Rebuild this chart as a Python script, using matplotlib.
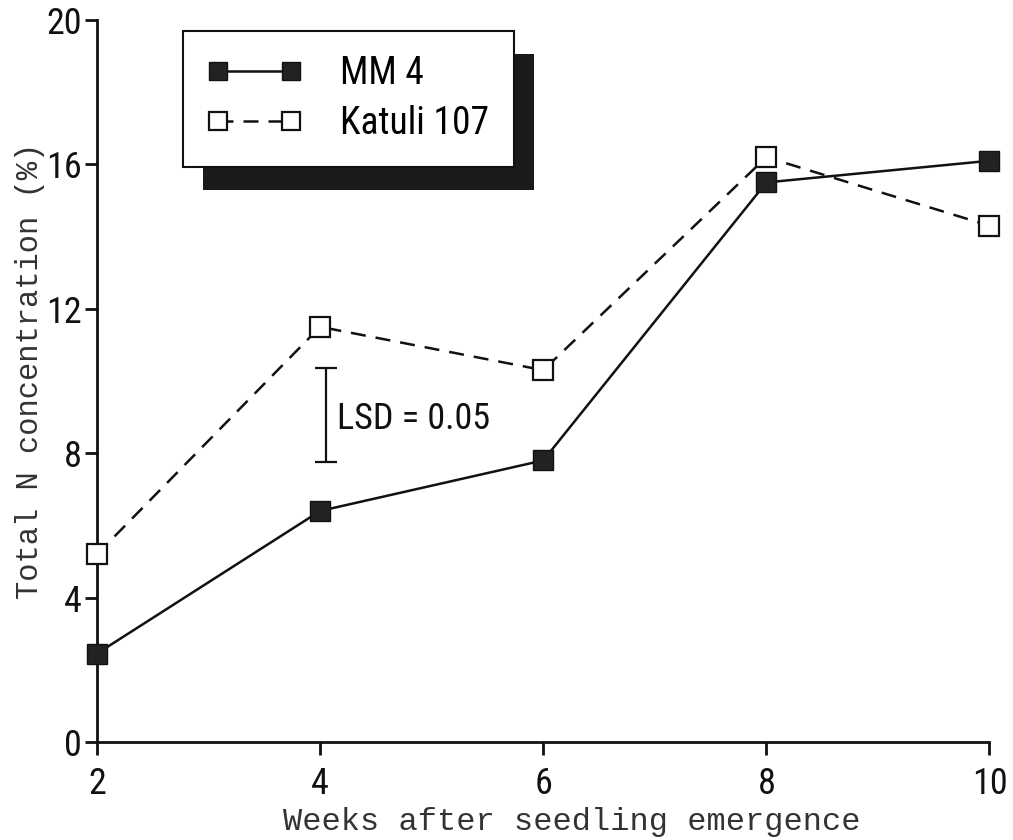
import matplotlib
matplotlib.use('Agg')
import matplotlib.pyplot as plt
from matplotlib.patches import Rectangle

weeks = [2, 4, 6, 8, 10]
mm4 = [2.45, 6.4, 7.8, 15.5, 16.1]
katuli = [5.2, 11.5, 10.3, 16.2, 14.3]
labels = ['MM 4', 'Katuli 107']

lsd_x = 4.05
lsd_lo = 7.75
lsd_hi = 10.35
lsd_text = 'LSD = 0.05'

tick_font = ['Roboto Condensed', 'DejaVu Sans']
label_font = ['Liberation Mono', 'DejaVu Sans Mono']

fig = plt.figure(figsize=(10.13, 8.4), dpi=100)
ax = fig.add_axes([0.0958, 0.1167, 0.881, 0.8595])

ax.plot(weeks, mm4, color='#111111', lw=1.8, marker='s', ms=14,
        mfc='#222222', mec='#111111', clip_on=False, zorder=3, label=labels[0])
ax.plot(weeks, katuli, color='#111111', lw=1.8, ls=(0, (6, 4)), marker='s', ms=14,
        mfc='white', mec='#111111', mew=1.6, clip_on=False, zorder=3, label=labels[1])

# LSD bar
ax.errorbar([lsd_x], [(lsd_lo + lsd_hi) / 2], yerr=[(lsd_hi - lsd_lo) / 2],
            fmt='none', ecolor='#111111', elinewidth=1.6, capsize=8, capthick=1.6)
ax.text(lsd_x + 0.1, (lsd_lo + lsd_hi) / 2 - 0.1, lsd_text, family=tick_font,
        stretch='condensed', fontsize=26, va='center', ha='left', color='#111111')

ax.set_xlim(2, 10)
ax.set_ylim(0, 20)
ax.set_xticks(weeks)
ax.set_yticks([0, 4, 8, 12, 16, 20])
for s in ['top', 'right']:
    ax.spines[s].set_visible(False)
for s in ['left', 'bottom']:
    ax.spines[s].set_linewidth(2)
    ax.spines[s].set_color('#111111')
ax.tick_params(direction='out', length=9, width=2, color='#111111', labelsize=26,
               labelcolor='#111111')
ax.tick_params(axis='x', pad=8)
ax.tick_params(axis='y', pad=2)
for t in ax.get_xticklabels() + ax.get_yticklabels():
    t.set_family(tick_font)
    t.set_stretch('condensed')

ax.set_xlabel('Weeks after seedling emergence', family=label_font, fontsize=23,
              color='#333333')
ax.set_ylabel('Total N concentration (%)', family=label_font, fontsize=22,
              color='#333333')
ax.xaxis.set_label_coords(0.532, -0.09)
ax.yaxis.set_label_coords(-0.058, 0.514)

leg = ax.legend(loc='upper left', bbox_to_anchor=(0.096, 0.985), borderaxespad=0,
                numpoints=2, handlelength=2.55, handletextpad=1.0, borderpad=0.65,
                labelspacing=0.35, fancybox=False, edgecolor='#111111', framealpha=1,
                markerscale=0.9,
                prop={'family': tick_font, 'size': 27, 'stretch': 'condensed'})
leg.get_frame().set_linewidth(1.5)
leg.set_zorder(5)

# black drop shadow under legend box
fig.canvas.draw()
bb = leg.get_window_extent()
shadow = Rectangle((bb.x0 + 20, bb.y0 - 23), bb.width, bb.height,
                   transform=None, facecolor='#1a1a1a', edgecolor='none', zorder=4.9)
ax.add_artist(shadow)

fig.savefig('out.png', dpi=100)
